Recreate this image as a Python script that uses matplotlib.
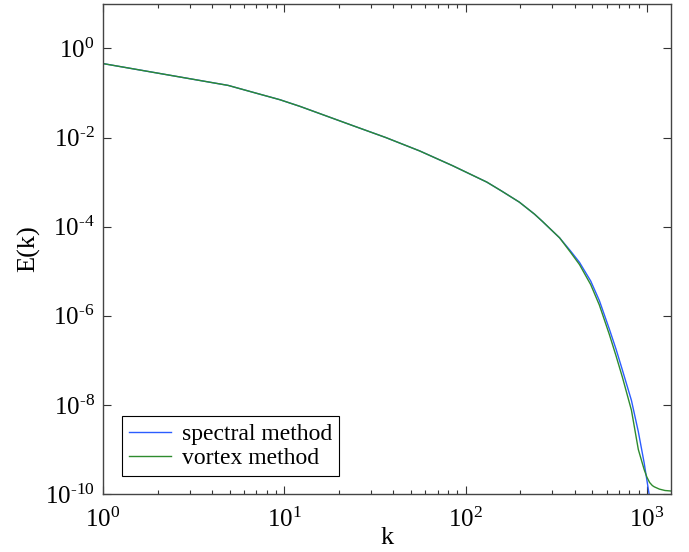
import matplotlib
matplotlib.use("Agg")
import matplotlib.pyplot as plt
from matplotlib.ticker import FixedLocator, LogLocator, NullLocator, FuncFormatter

# data (log-log energy spectrum)
k_spectral = [1.0, 4.9, 7.08, 9.44, 12.2, 23.8, 36.3, 55.8, 84.7, 131, 158, 198,
              240, 265, 330, 380, 425, 490, 547, 621, 676, 733, 822, 897, 966, 1047]
E_spectral = [0.457, 0.148, 0.0977, 0.0708, 0.0501, 0.0186, 0.0100, 5.01e-3, 2.34e-3,
              1.0e-3, 6.31e-4, 3.55e-4, 1.91e-4, 1.32e-4, 5.62e-5, 2.82e-5, 1.58e-5,
              6.03e-6, 2.19e-6, 5.01e-7, 1.78e-7, 6.03e-8, 1.26e-8, 2.51e-9, 5.01e-10,
              6.31e-11]

k_vortex = [1.0, 4.9, 7.08, 9.44, 12.2, 23.8, 36.3, 55.8, 84.7, 131, 158, 198,
            240, 265, 330, 380, 425, 490, 547, 621, 676, 733, 822, 897, 966, 1000,
            1035, 1072, 1099, 1172, 1259, 1355]
E_vortex = [0.457, 0.148, 0.0977, 0.0708, 0.0501, 0.0186, 0.0100, 5.01e-3, 2.34e-3,
            1.0e-3, 6.31e-4, 3.55e-4, 1.91e-4, 1.32e-4, 5.62e-5, 2.63e-5, 1.41e-5,
            5.01e-6, 1.74e-6, 3.80e-7, 1.26e-7, 4.17e-8, 7.59e-9, 1.0e-9, 3.55e-10,
            2.40e-10, 1.82e-10, 1.55e-10, 1.45e-10, 1.29e-10, 1.20e-10, 1.17e-10]

y_ticks = [1e-10, 1e-8, 1e-6, 1e-4, 1e-2, 1e0]

plt.rcParams["font.family"] = "Liberation Serif"
plt.rcParams["mathtext.fontset"] = "custom"
plt.rcParams["mathtext.rm"] = "Liberation Serif"
plt.rcParams["axes.unicode_minus"] = False


def pow10(v, pos):
    # hyphen-style minus like the original
    import math
    e = int(round(math.log10(v)))
    s = str(e).replace("-", r"\text{-}")
    return r"$\mathdefault{10^{%s}}$" % s


fig = plt.figure(figsize=(6.89, 5.52), dpi=100)
ax = fig.add_axes([0.1495, 0.105, 0.8245, 0.888])

ax.plot(k_spectral, E_spectral, color="#2b5cff", lw=1.0, label="spectral method")
ax.plot(k_vortex, E_vortex, color="#2e8b2e", lw=1.0, label="vortex method")

ax.set_xscale("log")
ax.set_yscale("log")
ax.set_xlim(1, 1360)
ax.set_ylim(1e-10, 1e1)

ax.yaxis.set_major_locator(FixedLocator(y_ticks))
ax.yaxis.set_minor_locator(NullLocator())
ax.xaxis.set_major_locator(LogLocator(base=10, numticks=10))
ax.xaxis.set_major_formatter(FuncFormatter(pow10))
ax.yaxis.set_major_formatter(FuncFormatter(pow10))

ax.tick_params(which="both", direction="in", top=True, right=True, labelsize=18)
ax.tick_params(which="major", length=6, width=0.8, color="#333333", pad=6)
ax.tick_params(which="minor", length=3, width=0.8, color="#333333")
ax.tick_params(axis="x", which="major", pad=10)
for s in ax.spines.values():
    s.set_color("#444444")
    s.set_linewidth(1.0)

ax.set_xlabel("k", fontsize=19, labelpad=-4)
ax.set_ylabel("E(k)", fontsize=19, labelpad=3)

leg = ax.legend(loc="lower left", bbox_to_anchor=(0.033, 0.037), borderaxespad=0,
                fontsize=17, fancybox=False, framealpha=1, edgecolor="black",
                handlelength=1.8, handletextpad=0.45, borderpad=0.3,
                labelspacing=0.1)
leg.get_frame().set_linewidth(0.8)

fig.savefig("out.png", dpi=100)
